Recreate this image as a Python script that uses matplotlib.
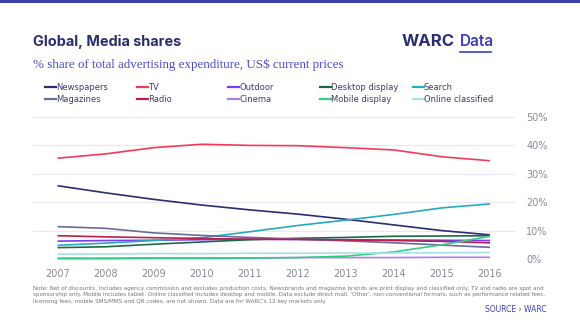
import matplotlib.pyplot as plt
from matplotlib.lines import Line2D

years = [2007, 2008, 2009, 2010, 2011, 2012, 2013, 2014, 2015, 2016]

# % share of total adspend
newspapers = [25.8, 23.3, 21.0, 19.0, 17.3, 15.8, 14.0, 12.0, 10.0, 8.5]
tv = [35.5, 37.0, 39.2, 40.4, 40.0, 39.9, 39.2, 38.4, 36.0, 34.6]
outdoor = [6.3, 6.5, 6.6, 6.8, 6.9, 6.9, 6.8, 6.7, 6.6, 6.5]
desktop = [4.0, 4.3, 5.2, 6.0, 6.8, 7.3, 7.6, 8.0, 8.1, 8.2]
search = [4.8, 5.6, 6.5, 7.5, 9.6, 11.8, 13.7, 15.7, 18.0, 19.4]
magazines = [11.4, 10.8, 9.2, 8.3, 7.6, 7.0, 6.4, 5.7, 4.9, 4.1]
radio = [8.2, 7.8, 7.5, 7.2, 7.0, 6.9, 6.7, 6.5, 6.2, 5.7]
cinema = [0.3, 0.3, 0.4, 0.4, 0.4, 0.5, 0.5, 0.5, 0.6, 0.6]
mobile = [0.1, 0.1, 0.2, 0.2, 0.3, 0.5, 1.0, 2.5, 5.0, 8.0]
classified = [1.7, 1.8, 1.9, 1.9, 2.0, 2.0, 2.1, 2.1, 2.2, 2.3]

series = [
    ("Newspapers", newspapers, "#2b2d6e"),
    ("TV", tv, "#f23a5c"),
    ("Outdoor", outdoor, "#7d3cf0"),
    ("Desktop display", desktop, "#1c6a45"),
    ("Search", search, "#27a9be"),
    ("Magazines", magazines, "#6b6b9c"),
    ("Radio", radio, "#b81f50"),
    ("Cinema", cinema, "#b07cf2"),
    ("Mobile display", mobile, "#35cc85"),
    ("Online classified", classified, "#a6e0e8"),
]
yticks = [0, 10, 20, 30, 40, 50]

navy = "#2b2d6e"
grey = "#8a8a94"
W, H = 580, 326

fig = plt.figure(figsize=(5.8, 3.26), dpi=100)
fig.patch.set_facecolor("white")

def px(x, y):
    return x / W, 1 - y / H

# top bar
fig.add_artist(plt.Rectangle((0, 1 - 3 / H), 1, 3 / H, transform=fig.transFigure,
                             color="#3b3fae", lw=0))

fig.text(*px(33, 42), "Global, Media shares", fontsize=10.4, fontweight="bold",
         color=navy, va="center", family="Inter")
fig.text(*px(33, 65), "% share of total advertising expenditure, US$ current prices",
         fontsize=9.4, color="#4a4acc", va="center", family="Liberation Serif")
fig.text(*px(402, 42), "WARC", fontsize=12, fontweight="bold", color=navy,
         va="center", family="Inter")
fig.text(*px(460, 42), "Data", fontsize=11, fontweight="semibold", color="#3a3fbf",
         va="center", family="Inter")
fig.add_artist(Line2D([460 / W, 491 / W], [1 - 52 / H] * 2, transform=fig.transFigure,
                      color="#3a3fbf", lw=1.2))

ax = fig.add_axes([33 / W, 1 - 259 / H, 482 / W, 142 / H])
for name, vals, col in series:
    ax.plot(years, vals, color=col, lw=1.2, clip_on=False, solid_capstyle="butt")

ax.set_xlim(2006.49, 2016.52)
ax.set_ylim(0, 50)
ax.set_yticks(yticks)
ax.set_yticklabels([f"{v}%" for v in yticks])
ax.yaxis.tick_right()
ax.set_xticks(years)
ax.tick_params(axis="both", length=0, labelsize=7, labelcolor=grey)
ax.tick_params(axis="y", pad=8)
ax.tick_params(axis="x", pad=7)
ax.grid(axis="y", color="#e8e6f7", lw=0.8)
ax.set_axisbelow(True)
for s in ax.spines.values():
    s.set_visible(False)

# legend, 5 columns x 2 rows, row-major
col_x = [45, 137, 228, 320, 413]
row_y = [87, 99]
for i, (name, vals, col) in enumerate(series):
    x0, y0 = col_x[i % 5], row_y[i // 5]
    fig.add_artist(Line2D([x0 / W, (x0 + 11) / W], [1 - y0 / H] * 2,
                          transform=fig.transFigure, color=col, lw=1.6))
    fig.text(*px(x0 + 11, y0), name, fontsize=6, color="#3d3d6b", va="center")

note = ("Note: Net of discounts. Includes agency commission and excludes production costs. "
        "Newsbrands and magazine brands are print display and classified only. TV and radio are spot and\n"
        "sponsorship only. Mobile includes tablet. Online classified includes desktop and mobile. "
        "Data exclude direct mail. 'Other', non-conventional formats, such as performance related fees,\n"
        "licensing fees, mobile SMS/MMS and QR codes, are not shown. Data are for WARC's 12 key markets only.")
fig.text(*px(33, 286), note, fontsize=4.05, color="#777777", va="top", linespacing=1.35)
fig.text(*px(547, 309), "SOURCE \u203a WARC", fontsize=5.5, color="#3a3fbf",
         ha="right", va="center")

fig.savefig("out.png", dpi=100)
